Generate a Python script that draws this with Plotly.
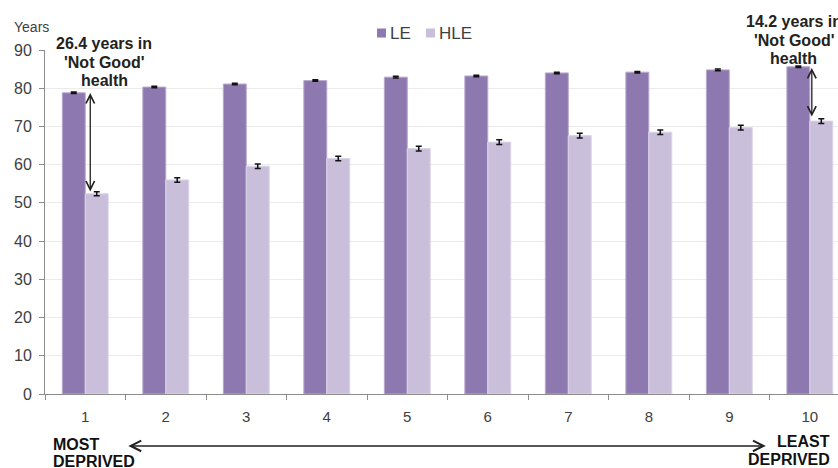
import plotly.graph_objects as go

categories = ["1", "2", "3", "4", "5", "6", "7", "8", "9", "10"]
le_values = [78.8, 80.3, 81.1, 82.0, 82.9, 83.2, 84.0, 84.2, 84.8, 85.6]
hle_values = [52.4, 56.0, 59.6, 61.6, 64.2, 65.9, 67.6, 68.5, 69.7, 71.4]
le_err = [0.2, 0.2, 0.2, 0.2, 0.2, 0.2, 0.2, 0.2, 0.2, 0.2]
hle_err = [0.5, 0.6, 0.6, 0.6, 0.6, 0.6, 0.6, 0.6, 0.6, 0.6]
y_ticks = [0, 10, 20, 30, 40, 50, 60, 70, 80, 90]
series_names = ["LE", "HLE"]
series_colors = ["#8E78B0", "#C9BFDB"]
series_edges = ["#B9A9CF", "#DCD4E8"]

FONT = "Liberation Sans, Arial, sans-serif"
fig = go.Figure()
for name, vals, errs, col, edge in zip(series_names, [le_values, hle_values], [le_err, hle_err],
                                       series_colors, series_edges):
    fig.add_trace(go.Bar(
        x=categories, y=vals, name=name, showlegend=False,
        marker=dict(color=col, line=dict(color=edge, width=1)),
        error_y=dict(type="data", array=errs, color="#111111", thickness=1.5, width=3),
    ))

ARR = dict(text="", showarrow=True, arrowhead=5, startarrowhead=5, arrowside="end+start",
           arrowcolor="#222222", arrowsize=1.3, startarrowsize=1.3, standoff=0, startstandoff=0)
ann = []
# vertical double arrows
ann.append(dict(x=0, y=78.75, xref="x", yref="y", ax=0, ay=52.6, axref="x", ayref="y",
                arrowwidth=1.3, xshift=5, **ARR))
ann.append(dict(x=9, y=85.3, xref="x", yref="y", ax=9, ay=72.2, axref="x", ayref="y",
                arrowwidth=1.3, xshift=2, **ARR))
txt_font = dict(family=FONT, size=16, color="#222222")
for line, yy in zip(["26.4 years in", "'Not Good'", "health"], [1.0203, 0.965, 0.910]):
    ann.append(dict(x=0, y=yy, xref="x", yref="paper", text="<b>%s</b>" % line, showarrow=False,
                    xanchor="center", yanchor="middle", xshift=19, font=txt_font))
for line, yy in zip(["14.2 years in", "'Not Good'", "health"], [1.0843, 1.029, 0.974]):
    ann.append(dict(x=9, y=yy, xref="x", yref="paper", text="<b>%s</b>" % line, showarrow=False,
                    xanchor="center", yanchor="middle", xshift=-16, font=txt_font))
# bottom arrow
ann.append(dict(x=0.909, y=-0.151, xref="paper", yref="paper", ax=-639, ay=0,
                arrowwidth=1.6, **ARR))
bot_font = dict(family=FONT, size=16, color="#111111")
ann.append(dict(x=0.008, y=-0.148, xref="paper", yref="paper", text="<b>MOST</b>",
                showarrow=False, xanchor="left", yanchor="middle", font=bot_font))
ann.append(dict(x=0.008, y=-0.196, xref="paper", yref="paper", text="<b>DEPRIVED</b>",
                showarrow=False, xanchor="left", yanchor="middle", font=bot_font))
ann.append(dict(x=0.993, y=-0.1395, xref="paper", yref="paper", text="<b>LEAST</b>",
                showarrow=False, xanchor="right", yanchor="middle", font=bot_font))
ann.append(dict(x=0.993, y=-0.189, xref="paper", yref="paper", text="<b>DEPRIVED</b>",
                showarrow=False, xanchor="right", yanchor="middle", font=bot_font))
ann.append(dict(x=-0.042, y=1.067, xref="paper", yref="paper", text="Years",
                showarrow=False, xanchor="left", yanchor="middle",
                font=dict(family=FONT, size=14, color="#404040")))

# legend (swatch + label)
shapes = []
leg_sq_x = [0.4187, 0.4805]
leg_tx_x = [0.4320, 0.4937]
for name, col, sx, tx in zip(series_names, series_colors, leg_sq_x, leg_tx_x):
    shapes.append(dict(type="rect", xref="paper", yref="paper", x0=sx, x1=sx + 0.0113,
                       y0=1.0363, y1=1.0625, fillcolor=col, line=dict(width=0)))
    ann.append(dict(x=tx, y=1.049, xref="paper", yref="paper", text=name, showarrow=False,
                    xanchor="left", yanchor="middle",
                    font=dict(family=FONT, size=17, color="#404040")))
fig.update_layout(annotations=ann, shapes=shapes)

fig.update_layout(
    width=838, height=468,
    margin=dict(l=45, r=0, t=50, b=74, autoexpand=False),
    plot_bgcolor="white", paper_bgcolor="white",
    barmode="group", bargap=0.43, bargroupgap=0,
    font=dict(family=FONT, size=14, color="#404040"),
    showlegend=False,
)
fig.update_xaxes(
    type="category", range=[-0.5, 9.35], showgrid=False,
    showline=True, linecolor="#8C8C8C", linewidth=1,
    ticks="outside", ticklen=5, tickcolor="#8C8C8C", tickson="boundaries",
    ticklabelstandoff=9,
    tickfont=dict(family=FONT, size=15, color="#404040"),
)
fig.update_yaxes(
    range=[0, 90], tickvals=y_ticks, showgrid=True, gridcolor="#EBEBEB", gridwidth=1,
    showline=True, linecolor="#8C8C8C", linewidth=1,
    ticks="outside", ticklen=5, tickcolor="#8C8C8C", zeroline=False,
    ticklabelstandoff=4,
    tickfont=dict(family=FONT, size=16, color="#404040"),
)

fig.write_html("out.html")
